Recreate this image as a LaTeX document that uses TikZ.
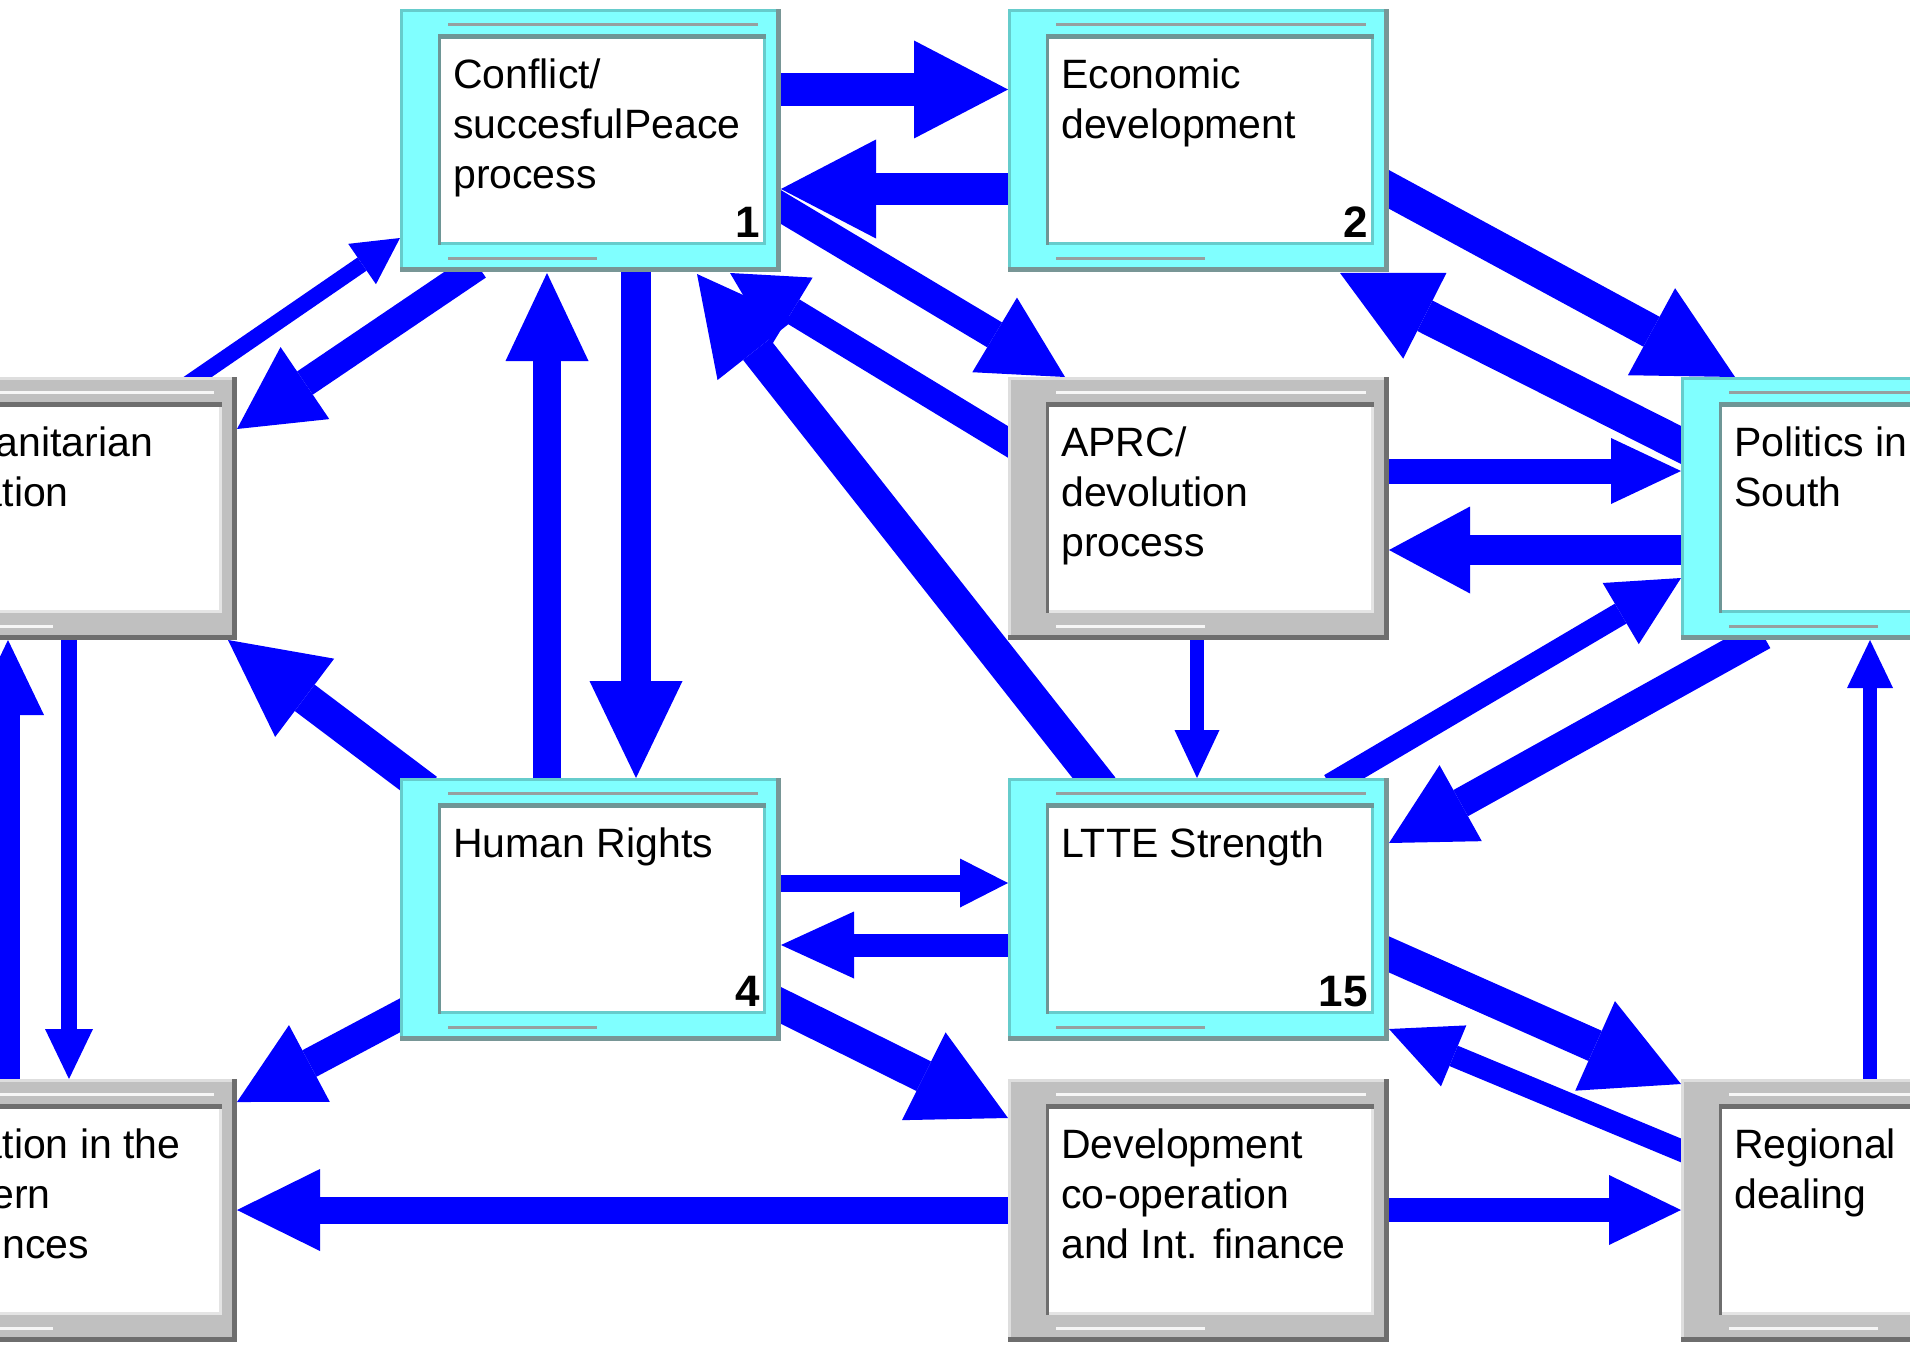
\documentclass[tikz,border=0pt]{standalone}
\usepackage{fontspec}
\setmainfont{Liberation Sans}
\usetikzlibrary{arrows.meta,calc}

\definecolor{arrowblue}{RGB}{0,0,255}
% cyan panels
\definecolor{cfill}{RGB}{128,255,255}
\definecolor{chi}{RGB}{102,204,204}
\definecolor{clo}{RGB}{120,150,150}
\definecolor{cinhi}{RGB}{110,150,150}
\definecolor{cinlo}{RGB}{102,204,204}
\definecolor{cline}{RGB}{150,160,160}
% grey panels
\definecolor{gfill}{RGB}{192,192,192}
\definecolor{ghi}{RGB}{222,222,222}
\definecolor{glo}{RGB}{110,110,110}
\definecolor{ginhi}{RGB}{110,110,110}
\definecolor{ginlo}{RGB}{228,228,228}
\definecolor{gline}{RGB}{246,246,246}

\pgfdeclarelayer{paper}
\pgfdeclarelayer{links}
\pgfsetlayers{paper,links,main}

\tikzset{
  panelbox/.style={anchor=north west, minimum width=381pt, minimum height=263pt,
    inner sep=0pt, outer sep=0pt},
  paneltext/.style={anchor=north west, inner sep=0pt, align=left,
    font=\fontsize{41}{50}\selectfont},
  panelnum/.style={anchor=base east, inner sep=0pt,
    font=\fontsize{44}{50}\selectfont\bfseries},
  link/.style n args={3}{draw=arrowblue, line width=#1pt,
    arrows={-{Triangle[width=#2pt, length=#3pt, line width=0pt]}}},
}

% point given by an offset from the top left corner of a panel
\newcommand\onbox[3]{([shift={(#2,#3)}]#1.north west)}

% panel: name, left, top, colour set (c/g), text, number
\newcommand\panel[6]{%
  \node[panelbox, fill=#4fill] (#1) at (#2,#3) {};
  \fill[#4hi] \onbox{#1}{0}{0} rectangle \onbox{#1}{381}{3};
  \fill[#4hi] \onbox{#1}{0}{0} rectangle \onbox{#1}{3}{263};
  \fill[#4lo] \onbox{#1}{376}{0} rectangle \onbox{#1}{381}{263};
  \fill[#4lo] \onbox{#1}{0}{258} rectangle \onbox{#1}{381}{263};
  \fill[white] \onbox{#1}{38}{25} rectangle \onbox{#1}{366}{236};
  \fill[#4inhi] \onbox{#1}{38}{25} rectangle \onbox{#1}{366}{30};
  \fill[#4inhi] \onbox{#1}{38}{25} rectangle \onbox{#1}{41}{236};
  \fill[#4inlo] \onbox{#1}{41}{233} rectangle \onbox{#1}{366}{236};
  \fill[#4inlo] \onbox{#1}{363}{30} rectangle \onbox{#1}{366}{236};
  \fill[#4line] \onbox{#1}{48}{14} rectangle \onbox{#1}{358}{17};
  \fill[#4line] \onbox{#1}{48}{248} rectangle \onbox{#1}{197}{251};
  \node[paneltext] (#1-text) at \onbox{#1}{53}{44} {\strut #5};
  \if\relax\detokenize{#6}\relax\else
    \node[panelnum] (#1-num) at \onbox{#1}{360}{228} {#6};
  \fi
}

\begin{document}
\begin{tikzpicture}[x=1pt, y=-1pt]
\useasboundingbox (0,0) rectangle (1910,1351);
\begin{pgfonlayer}{paper}
  \fill[white] (0,0) rectangle (1910,1351);
\end{pgfonlayer}

\panel{C1}{400}{9}{c}{Conflict/\\succesfulPeace\\process}{1}
\panel{E2}{1008}{9}{c}{Economic\\development}{2}
\panel{HU}{-144}{377}{g}{Humanitarian\\Situation}{}
\panel{AP}{1008}{377}{g}{APRC/\\devolution\\process}{}
\panel{PS}{1681}{377}{c}{Politics in\\South}{}
\panel{HR}{400}{778}{c}{Human Rights}{4}
\panel{LT}{1008}{778}{c}{LTTE Strength}{15}
\panel{SN}{-144}{1079}{g}{Situation in the\\Eastern\\Provinces}{}
\panel{DC}{1008}{1079}{g}{Development\\co-operation\\and Int. finance}{}
\panel{RD}{1681}{1079}{g}{Regional\\dealing}{}

\begin{pgfonlayer}{links}
  \draw[link={33}{98}{94}] \onbox{C1}{370}{80.5} -- \onbox{E2}{0}{80.5};
  \draw[link={32}{99}{95}] \onbox{E2}{10}{180} -- \onbox{C1}{381}{180};
  \draw[link={29}{87}{82}] \onbox{C1}{370}{191.5} -- \onbox{AP}{57}{0};
  \draw[link={27}{78}{73}] \onbox{AP}{10}{71} -- \onbox{C1}{330}{264};
  \draw[link={34}{99}{96}] \onbox{LT}{94}{10} -- \onbox{C1}{297}{265};
  \draw[link={28}{87}{82}] \onbox{C1}{78}{257} -- \onbox{HU}{381}{52};
  \draw[link={16}{49}{46}] \onbox{HU}{330}{8} -- \onbox{C1}{0}{229};
  \draw[link={30}{93}{97}] \onbox{C1}{236}{253} -- \onbox{HR}{236}{0};
  \draw[link={28}{83}{88}] \onbox{HR}{147}{10} -- \onbox{C1}{147}{264};
  \draw[link={34}{99}{95}] \onbox{E2}{371}{175} -- \onbox{PS}{54}{0};
  \draw[link={34}{96}{95}] \onbox{PS}{10}{73} -- \onbox{E2}{332}{264};
  \draw[link={25}{66}{70}] \onbox{AP}{371}{94} -- \onbox{PS}{0}{94};
  \draw[link={30}{87}{81}] \onbox{PS}{10}{173} -- \onbox{AP}{381}{173};
  \draw[link={14}{45}{48}] \onbox{AP}{189}{253} -- \onbox{LT}{189}{0};
  \draw[link={23}{71}{70}] \onbox{LT}{322}{7} -- \onbox{PS}{0}{201};
  \draw[link={30}{87}{82}] \onbox{PS}{82}{258} -- \onbox{LT}{381}{65};
  \draw[link={33}{98}{96}] \onbox{HR}{27}{12} -- \onbox{HU}{372}{263};
  \draw[link={16}{48}{50}] \onbox{HU}{213}{253} -- \onbox{SN}{213}{0};
  \draw[link={24}{72}{75}] \onbox{SN}{152}{10} -- \onbox{HU}{152}{263};
  \draw[link={17}{49}{48}] \onbox{HR}{370}{105} -- \onbox{LT}{0}{105};
  \draw[link={23}{67}{73}] \onbox{LT}{10}{167} -- \onbox{HR}{381}{167};
  \draw[link={30}{87}{82}] \onbox{HR}{10}{232} -- \onbox{SN}{381}{23};
  \draw[link={33}{98}{94}] \onbox{HR}{370}{222} -- \onbox{DC}{0}{39};
  \draw[link={33}{98}{94}] \onbox{LT}{371}{172} -- \onbox{RD}{0}{5};
  \draw[link={22}{66}{70}] \onbox{RD}{11}{76} -- \onbox{LT}{381}{251};
  \draw[link={27}{82}{83}] \onbox{DC}{10}{131} -- \onbox{SN}{381}{131};
  \draw[link={24}{70}{72}] \onbox{DC}{371}{131} -- \onbox{RD}{0}{131};
  \draw[link={14}{46}{48}] \onbox{RD}{189}{10} -- \onbox{PS}{189}{263};
\end{pgfonlayer}
\end{tikzpicture}
\end{document}
